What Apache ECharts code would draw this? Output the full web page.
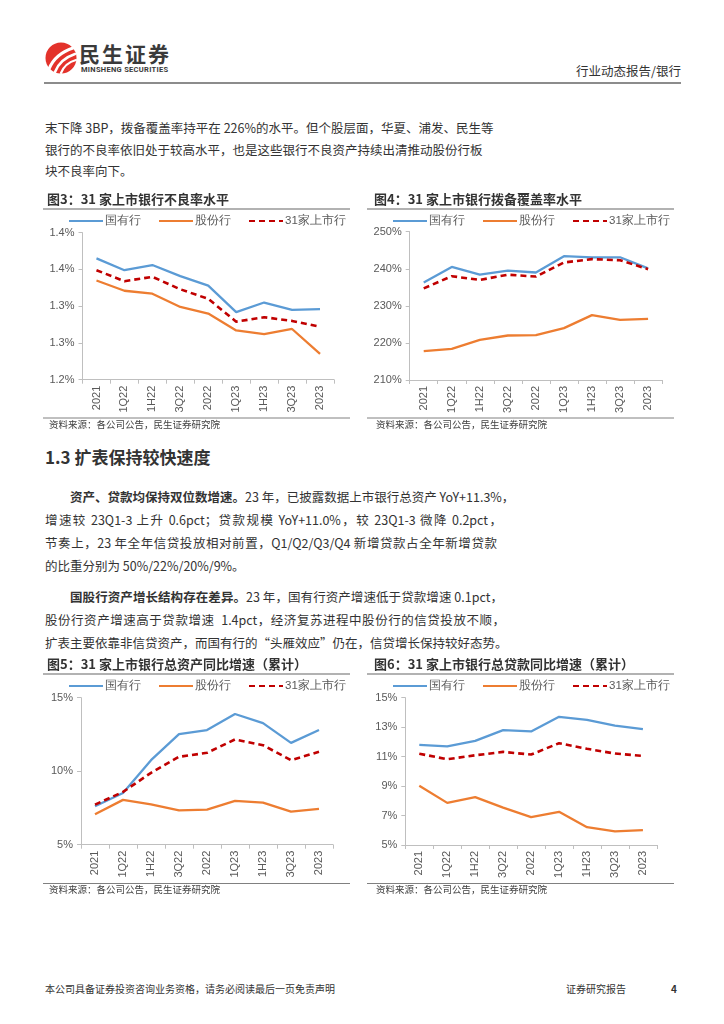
<!DOCTYPE html>
<html><head><meta charset="utf-8">
<script src="https://cdn.jsdelivr.net/npm/echarts@6/dist/echarts.min.js"></script>
<style>
html,body{margin:0;padding:0;background:#fff;}
#page{position:relative;width:724px;height:1024px;overflow:hidden;font-family:"Noto Sans CJK SC","Noto Sans",sans-serif;color:#333;}
.ln{position:absolute;font-size:12.5px;line-height:18px;height:18px;white-space:nowrap;text-align:justify;text-align-last:justify;}
.nl{text-align:left;text-align-last:left;}
#chart{position:absolute;left:0;top:0;width:724px;height:1024px;}
</style></head>
<body><div id="page">
<svg style="position:absolute;left:0;top:0" width="724" height="100">
  <circle cx="61" cy="58" r="15.5" fill="#E3322B"/>
  <path d="M49,69 Q55,54 73,48" stroke="#fff" stroke-width="3" fill="none" stroke-linecap="round"/>
  <path d="M55,72 Q60,59 75,54" stroke="#fff" stroke-width="2.6" fill="none" stroke-linecap="round"/>
  <path d="M61,73 Q65,63 76,60" stroke="#fff" stroke-width="2.2" fill="none" stroke-linecap="round"/>
  <line x1="44" y1="83" x2="681" y2="83" stroke="#666" stroke-width="1.5"/>
  <line x1="44" y1="974" x2="681" y2="974" stroke="#666" stroke-width="1.2"/>
</svg>
<div style="position:absolute;left:79px;top:41px;font-size:21px;font-weight:bold;color:#3a3a3a;letter-spacing:2px;line-height:25px;">民生证券</div>
<div style="position:absolute;left:81px;top:66px;font-size:7.5px;font-weight:bold;color:#3a3a3a;line-height:8px;letter-spacing:0.3px;font-family:'Liberation Sans Narrow','Roboto',sans-serif;">MINSHENG SECURITIES</div>
<div style="position:absolute;right:43px;top:62px;font-size:12.5px;color:#333;line-height:18px;">行业动态报告/银行</div>

<div class="ln" style="left:45px;top:119px;width:430px;">末下降 3BP，拨备覆盖率持平在 226%的水平。但个股层面，华夏、浦发、民生等</div>
<div class="ln" style="left:45px;top:141px;width:430px;">银行的不良率依旧处于较高水平，也是这些银行不良资产持续出清推动股份行板</div>
<div class="ln nl" style="left:45px;top:162px;">块不良率向下。</div>

<div style="position:absolute;left:45px;top:446px;font-size:17px;font-weight:bold;color:#333;line-height:22px;">1.3 扩表保持较快速度</div>

<div class="ln" style="left:70px;top:488px;width:435px;"><b>资产、贷款均保持双位数增速。</b>23 年，已披露数据上市银行总资产 YoY+11.3%，</div>
<div class="ln" style="left:45px;top:511px;width:457px;">增速较 23Q1-3 上升 0.6pct；贷款规模 YoY+11.0%，较 23Q1-3 微降 0.2pct，</div>
<div class="ln" style="left:45px;top:534px;width:452px;">节奏上，23 年全年信贷投放相对前置，Q1/Q2/Q3/Q4 新增贷款占全年新增贷款</div>
<div class="ln nl" style="left:45px;top:557px;">的比重分别为 50%/22%/20%/9%。</div>

<div class="ln" style="left:70px;top:588px;width:433px;"><b>国股行资产增长结构存在差异。</b>23 年，国有行资产增速低于贷款增速 0.1pct，</div>
<div class="ln" style="left:45px;top:611px;width:460px;">股份行资产增速高于贷款增速 &nbsp;1.4pct，经济复苏进程中股份行的信贷投放不顺，</div>
<div class="ln" style="left:45px;top:634px;width:460px;">扩表主要依靠非信贷资产，而国有行的“头雁效应”仍在，信贷增长保持较好态势。</div>

<div style="position:absolute;left:45px;top:982px;font-size:10px;line-height:14px;color:#333;">本公司具备证券投资咨询业务资格，请务必阅读最后一页免责声明</div>
<div style="position:absolute;left:566px;top:982px;font-size:10px;line-height:14px;color:#333;">证券研究报告</div>
<div style="position:absolute;left:671px;top:982px;font-size:10px;line-height:14px;color:#333;font-weight:bold;">4</div>

<div id="chart"></div>
</div>
<script>
const categories = ['2021','1Q22','1H22','3Q22','2022','1Q23','1H23','3Q23','2023'];
const seriesNames = ['国有行','股份行','31家上市行'];
const chartTitles = ['图3：31 家上市银行不良率水平','图4：31 家上市银行拨备覆盖率水平','图5：31 家上市银行总资产同比增速（累计）','图6：31 家上市银行总贷款同比增速（累计）'];
const sourceText = '资料来源：各公司公告，民生证券研究院';

const nplState = [1.365,1.349,1.356,1.341,1.328,1.292,1.305,1.295,1.296];
const nplJoint = [1.335,1.321,1.317,1.299,1.290,1.267,1.262,1.269,1.235];
const nplAll   = [1.349,1.334,1.340,1.323,1.310,1.279,1.285,1.280,1.272];

const covState = [236.3,240.5,238.4,239.5,239.0,243.4,243.1,243.1,240.1];
const covJoint = [217.8,218.4,220.8,222.0,222.1,224.0,227.5,226.2,226.5];
const covAll   = [234.7,238.0,237.0,238.4,237.9,241.7,242.6,242.3,239.9];

const assetState = [7.61,8.52,10.75,12.52,12.80,13.89,13.27,11.93,12.80];
const assetJoint = [7.07,8.05,7.75,7.34,7.39,7.98,7.86,7.25,7.43];
const assetAll   = [7.73,8.59,9.89,10.98,11.25,12.16,11.77,10.75,11.32];

const loanState = [11.80,11.69,12.07,12.80,12.71,13.70,13.50,13.11,12.86];
const loanJoint = [9.02,7.86,8.25,7.54,6.89,7.25,6.21,5.92,6.01];
const loanAll   = [11.20,10.82,11.09,11.32,11.14,11.91,11.53,11.21,11.05];

const nplTicks = ['1.2%','1.3%','1.3%','1.4%','1.4%'];
const covTicks = ['210%','220%','230%','240%','250%'];
const assetTicks = ['5%','10%','15%'];
const loanTicks = ['5%','7%','9%','11%','13%','15%'];

const panels = [
  {grid:{left:82.5,top:232.7,width:251.5,height:147}, y:[1.2,1.4,0.05], ticks:nplTicks, data:[nplState,nplJoint,nplAll], legendLeft:68, legendY:222, titleX:47, titleY:201.5, lineX:[43,350], titleLineY:209, srcLineY:418, srcY:427},
  {grid:{left:409.7,top:231.7,width:252.4,height:148.3}, y:[210,250,10], ticks:covTicks, data:[covState,covJoint,covAll], legendLeft:392, legendY:222, titleX:374, titleY:201.5, lineX:[367,674], titleLineY:209, srcLineY:418, srcY:427},
  {grid:{left:81,top:697.7,width:252,height:147}, y:[5,15,5], ticks:assetTicks, data:[assetState,assetJoint,assetAll], legendLeft:68, legendY:687, titleX:47, titleY:666.5, lineX:[43,350], titleLineY:674, srcLineY:883.5, srcY:892},
  {grid:{left:405.3,top:697.7,width:251.6,height:147.3}, y:[5,15,2], ticks:loanTicks, data:[loanState,loanJoint,loanAll], legendLeft:392, legendY:687, titleX:374, titleY:666.5, lineX:[367,674], titleLineY:674, srcLineY:883.5, srcY:892}
];

const colors = ['#5B9BD5','#ED7D31','#C00000'];
const option = {animation:false, grid:[], xAxis:[], yAxis:[], series:[], legend:[], graphic:[]};
panels.forEach((p,i)=>{
  option.grid.push(Object.assign({containLabel:false}, p.grid));
  option.xAxis.push({type:'category', gridIndex:i, data:categories, boundaryGap:true,
    axisLine:{lineStyle:{color:'#bfbfbf',width:1}}, axisTick:{show:true,length:4,lineStyle:{color:'#bfbfbf'}},
    axisLabel:{rotate:90, margin:6, fontSize:11, color:'#595959', fontFamily:'Liberation Sans, Arial, sans-serif'}});
  const ticks = p.ticks;
  option.yAxis.push({type:'value', gridIndex:i, min:p.y[0], max:p.y[1], interval:p.y[2],
    axisLine:{show:true,lineStyle:{color:'#bfbfbf',width:1}}, axisTick:{show:true,length:4,lineStyle:{color:'#bfbfbf'}},
    splitLine:{show:false},
    axisLabel:{margin:8, fontSize:11, color:'#595959', fontFamily:'Liberation Sans, Arial, sans-serif',
      formatter:(v,idx)=>ticks[idx]}});
  p.data.forEach((d,k)=>{
    option.series.push({type:'line', name:seriesNames[k], xAxisIndex:i, yAxisIndex:i, data:d, symbol:'none',
      smooth:false, z: k===2?3:2,
      lineStyle:{color:colors[k], width:k===2?2.6:2.3, type:k===2?[6,4]:'solid'}, itemStyle:{color:colors[k]}});
  });
  option.legend.push({left:p.legendLeft, top:p.legendY-7, padding:0, itemWidth:34, itemHeight:14, itemGap:17,
    data:seriesNames, itemStyle:{opacity:0, borderWidth:0},
    textStyle:{fontSize:11.5, color:'#595959', padding:[0,0,0,-3]}, selectedMode:false});
  option.graphic.push(
    {type:'text', left:p.titleX, top:p.titleY-9, style:{text:chartTitles[i], font:'bold 13px "Noto Sans CJK SC"', fill:'#333'}},
    {type:'line', shape:{x1:p.lineX[0],y1:p.titleLineY,x2:p.lineX[1],y2:p.titleLineY}, style:{stroke:'#666',lineWidth:1.2}},
    {type:'line', shape:{x1:p.lineX[0],y1:p.srcLineY,x2:p.lineX[1],y2:p.srcLineY}, style:{stroke:'#808080',lineWidth:1}},
    {type:'text', left:p.titleX+2, top:p.srcY-7, style:{text:sourceText, font:'9.5px "Noto Sans CJK SC"', fill:'#404040'}}
  );
});
const chart = echarts.init(document.getElementById('chart'), null, {renderer:'canvas'});
chart.setOption(option);
</script>
</body></html>
